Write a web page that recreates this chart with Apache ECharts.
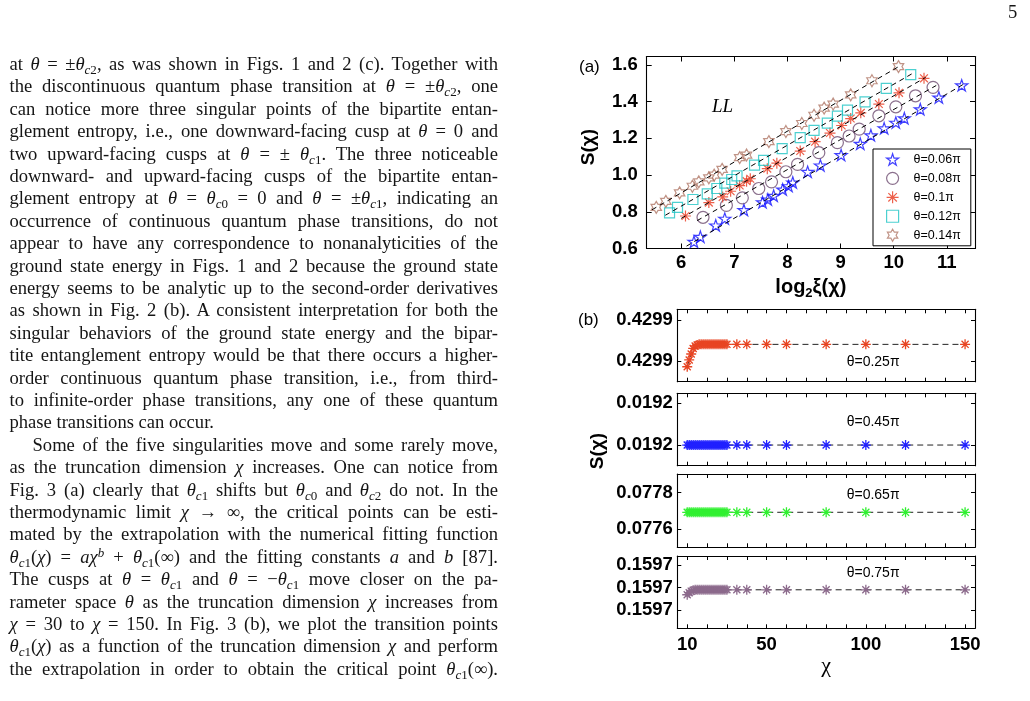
<!DOCTYPE html>
<html>
<head>
<meta charset="utf-8">
<script src="https://cdn.jsdelivr.net/npm/echarts@6/dist/echarts.min.js"></script>
<style>
    body { margin: 0; background: #fff; }
    #page { position: relative; width: 1030px; height: 701px; overflow: hidden; background: #fff; }
    #chart { position: absolute; left: 0; top: 0; width: 1030px; height: 701px; }
    #text { position: absolute; left: 0; top: 0; width: 1030px; height: 701px; pointer-events: none;
        font-family: 'Liberation Serif', 'DejaVu Serif', serif; font-size: 18.6px; color: #151515; }
    #text sub { font-size: 70%; vertical-align: -0.28em; line-height: 0; }
    #text sup { font-size: 70%; vertical-align: 0.5em; line-height: 0; }
    #pageNo { position: absolute; left: 1008px; top: 1px; }
</style>
</head>
<body>
<div id="page">
    <div id="chart"></div>
    <div id="text"><div id="pageNo">5</div></div>
</div>
<script>
// ---- panel (a): S(chi) against log2 xi(chi)
const seriesNamesA = ['θ=0.06π', 'θ=0.08π', 'θ=0.1π', 'θ=0.12π', 'θ=0.14π'];

const xA006 = [6.24, 6.36, 6.65, 6.82, 7.18, 7.53, 7.63, 7.74, 7.91, 8.02, 8.10, 8.38, 8.62, 9.01, 9.37, 9.57, 9.82, 10.04, 10.20, 10.50, 10.85, 11.28];
const yA006 = [0.637, 0.664, 0.726, 0.763, 0.810, 0.852, 0.867, 0.888, 0.922, 0.940, 0.960, 1.018, 1.053, 1.109, 1.171, 1.217, 1.255, 1.286, 1.310, 1.359, 1.423, 1.489];

const xA008 = [6.41, 6.85, 7.15, 7.46, 7.70, 7.97, 8.19, 8.59, 8.94, 9.16, 9.35, 9.72, 10.04, 10.41, 10.74];
const yA008 = [0.770, 0.835, 0.876, 0.927, 0.963, 1.018, 1.058, 1.122, 1.177, 1.213, 1.250, 1.323, 1.372, 1.432, 1.478];

const xA010 = [6.08, 6.52, 6.78, 6.93, 7.10, 7.23, 7.30, 7.62, 7.80, 8.24, 8.52, 8.80, 9.02, 9.19, 9.38, 9.72, 10.10, 10.57];
const yA010 = [0.777, 0.850, 0.881, 0.912, 0.943, 0.967, 0.980, 1.035, 1.065, 1.131, 1.182, 1.229, 1.270, 1.308, 1.339, 1.387, 1.448, 1.527];

const xA012 = [5.78, 5.93, 6.22, 6.49, 6.67, 6.82, 6.95, 7.05, 7.38, 7.55, 7.90, 8.24, 8.50, 8.75, 8.94, 9.13, 9.46, 9.86, 10.32];
const yA012 = [0.794, 0.824, 0.867, 0.898, 0.927, 0.956, 0.976, 0.996, 1.054, 1.080, 1.144, 1.204, 1.244, 1.283, 1.321, 1.354, 1.399, 1.472, 1.547];

const xA014 = [5.53, 5.71, 5.97, 6.21, 6.33, 6.52, 6.62, 6.77, 7.10, 7.23, 7.65, 7.97, 8.27, 8.50, 8.69, 8.86, 9.19, 9.59, 10.09];
const yA014 = [0.824, 0.857, 0.903, 0.939, 0.963, 0.985, 1.000, 1.031, 1.095, 1.109, 1.182, 1.237, 1.281, 1.326, 1.365, 1.387, 1.437, 1.514, 1.591];

// dashed fitting lines, end points
const fitXA = [[6.10, 11.35], [6.30, 10.80], [6.00, 10.60], [5.70, 10.35], [5.45, 10.10]];
const fitYA = [[0.613, 1.501], [0.752, 1.488], [0.764, 1.532], [0.781, 1.553], [0.811, 1.592]];

const xTicksA = [6, 7, 8, 9, 10, 11];
const yTicksA = [0.6, 0.8, 1.0, 1.2, 1.4, 1.6];

// ---- panel (b): S(chi) against chi for four theta
const chiB = [10, 11, 12, 13, 14, 15, 16, 17, 18, 19, 20, 21, 22, 23, 24, 25, 26, 27, 28, 29, 30, 35, 40, 50, 60, 80, 100, 120, 150];
const sB025 = [0.4299072, 0.4299105, 0.4299134, 0.4299161, 0.4299173, 0.4299178, 0.4299181, 0.4299181, 0.4299181, 0.4299181,
    0.4299181, 0.4299181, 0.4299181, 0.4299181, 0.4299181, 0.4299181, 0.4299181, 0.4299181, 0.4299181, 0.4299181,
    0.4299181, 0.4299181, 0.4299181, 0.4299181, 0.4299181, 0.4299181, 0.4299181, 0.4299181, 0.4299181];
const sB045 = [0.01921, 0.01921, 0.01921, 0.01921, 0.01921, 0.01921, 0.01921, 0.01921, 0.01921, 0.01921,
    0.01921, 0.01921, 0.01921, 0.01921, 0.01921, 0.01921, 0.01921, 0.01921, 0.01921, 0.01921,
    0.01921, 0.01921, 0.01921, 0.01921, 0.01921, 0.01921, 0.01921, 0.01921, 0.01921];
const sB065 = [0.0776929, 0.0776929, 0.0776929, 0.0776929, 0.0776929, 0.0776929, 0.0776929, 0.0776929, 0.0776929, 0.0776929,
    0.0776929, 0.0776929, 0.0776929, 0.0776929, 0.0776929, 0.0776929, 0.0776929, 0.0776929, 0.0776929, 0.0776929,
    0.0776929, 0.0776929, 0.0776929, 0.0776929, 0.0776929, 0.0776929, 0.0776929, 0.0776929, 0.0776929];
const sB075 = [0.1597168, 0.1597177, 0.1597184, 0.1597188, 0.1597190, 0.1597190, 0.1597190, 0.1597190, 0.1597190, 0.1597190,
    0.1597190, 0.1597190, 0.1597190, 0.1597190, 0.1597190, 0.1597190, 0.1597190, 0.1597190, 0.1597190, 0.1597190,
    0.1597190, 0.1597190, 0.1597190, 0.1597190, 0.1597190, 0.1597190, 0.1597190, 0.1597190, 0.1597190];
const thetaLabelsB = ['θ=0.25π', 'θ=0.45π', 'θ=0.65π', 'θ=0.75π'];

const xTicksB = [10, 20, 30, 40, 50, 60, 70, 80, 90, 100, 110, 120, 130, 140, 150];
const xLabelsB = [10, 50, 100, 150];
const yTicksB = [[0.42991, 0.42993], [0.01921, 0.01923], [0.0776, 0.0778], [0.15971, 0.15972, 0.15973]];
const yRangeB = [[0.4298999, 0.4299352], [0.0192001, 0.0192348], [0.0775016, 0.0779022], [0.1597019, 0.159734]];

// ---- page text (left column): [html, justified, indented]
const textLines = [
    ['at <i>θ</i> = ±<i>θ</i><sub><i>c</i>2</sub>, as was shown in Figs. 1 and 2 (c). Together with', 1, 0],
    ['the discontinuous quantum phase transition at <i>θ</i> = ±<i>θ</i><sub><i>c</i>2</sub>, one', 1, 0],
    ['can notice more three singular points of the bipartite entan-', 1, 0],
    ['glement entropy, i.e., one downward-facing cusp at <i>θ</i> = 0 and', 1, 0],
    ['two upward-facing cusps at <i>θ</i> = ± <i>θ</i><sub><i>c</i>1</sub>. The three noticeable', 1, 0],
    ['downward- and upward-facing cusps of the bipartite entan-', 1, 0],
    ['glement entropy at <i>θ</i> = <i>θ</i><sub><i>c</i>0</sub> = 0 and <i>θ</i> = ±<i>θ</i><sub><i>c</i>1</sub>, indicating an', 1, 0],
    ['occurrence of continuous quantum phase transitions, do not', 1, 0],
    ['appear to have any correspondence to nonanalyticities of the', 1, 0],
    ['ground state energy in Figs. 1 and 2 because the ground state', 1, 0],
    ['energy seems to be analytic up to the second-order derivatives', 1, 0],
    ['as shown in Fig. 2 (b). A consistent interpretation for both the', 1, 0],
    ['singular behaviors of the ground state energy and the bipar-', 1, 0],
    ['tite entanglement entropy would be that there occurs a higher-', 1, 0],
    ['order continuous quantum phase transition, i.e., from third-', 1, 0],
    ['to infinite-order phase transitions, any one of these quantum', 1, 0],
    ['phase transitions can occur.', 0, 0],
    ['Some of the five singularities move and some rarely move,', 1, 1],
    ['as the truncation dimension <i>χ</i> increases. One can notice from', 1, 0],
    ['Fig. 3 (a) clearly that <i>θ</i><sub><i>c</i>1</sub> shifts but <i>θ</i><sub><i>c</i>0</sub> and <i>θ</i><sub><i>c</i>2</sub> do not. In the', 1, 0],
    ['thermodynamic limit <i>χ</i> → ∞, the critical points can be esti-', 1, 0],
    ['mated by the extrapolation with the numerical fitting function', 1, 0],
    ['<i>θ</i><sub><i>c</i>1</sub>(<i>χ</i>) = <i>aχ</i><sup><i>b</i></sup> + <i>θ</i><sub><i>c</i>1</sub>(∞) and the fitting constants <i>a</i> and <i>b</i> [87].', 1, 0],
    ['The cusps at <i>θ</i> = <i>θ</i><sub><i>c</i>1</sub> and <i>θ</i> = −<i>θ</i><sub><i>c</i>1</sub> move closer on the pa-', 1, 0],
    ['rameter space <i>θ</i> as the truncation dimension <i>χ</i> increases from', 1, 0],
    ['<i>χ</i> = 30 to <i>χ</i> = 150. In Fig. 3 (b), we plot the transition points', 1, 0],
    ['<i>θ</i><sub><i>c</i>1</sub>(<i>χ</i>) as a function of the truncation dimension <i>χ</i> and perform', 1, 0],
    ['the extrapolation in order to obtain the critical point <i>θ</i><sub><i>c</i>1</sub>(∞).', 1, 0]
];

function layoutText() {
    const box = document.getElementById('text');
    box.querySelectorAll('.ln').forEach(function (el) { el.remove(); });
    const textLeft = 9.5, textRight = 498, lineH = 22.4, firstTop = 53;
    textLines.forEach(function ([html, justify, indent], i) {
        const left = textLeft + (indent ? 23 : 0);
        const ln = document.createElement('div');
        ln.className = 'ln';
        ln.style.cssText = `position:absolute;left:${left}px;top:${firstTop + i * lineH}px;white-space:nowrap;line-height:${lineH}px;`;
        ln.innerHTML = html;
        box.appendChild(ln);
        if (justify) {
            const w = ln.getBoundingClientRect().width;
            const spaces = (ln.textContent.match(/ /g) || []).length;
            if (spaces > 0) ln.style.wordSpacing = ((textRight - left - w) / spaces) + 'px';
        }
    });
}
layoutText();
if (document.fonts) document.fonts.ready.then(layoutText);

// ---- chart
const FONT = "'Liberation Sans', Arial, sans-serif";
const pentagram = 'path://M10,0L12.245,6.91L19.51,6.91L13.63,11.18L15.88,18.09L10,13.82L4.12,18.09L6.37,11.18L0.49,6.91L7.755,6.91Z';
const hexagram = 'path://M10,0L12.887,5L18.66,5L15.77,10L18.66,15L12.887,15L10,20L7.113,15L1.34,15L4.23,10L1.34,5L7.113,5Z';
const asterisk = 'path://M0,5L10,5M5,0L5,10M1.46,1.46L8.54,8.54M1.46,8.54L8.54,1.46';

const tickLabel = { color: '#000', fontFamily: FONT, fontWeight: 'bold', fontSize: 18.5 };
const frameLine = { show: true, onZero: false, lineStyle: { color: '#000', width: 1.1 } };

function zip(xs, ys) {
    return xs.map((x, i) => [x, ys[i]]);
}

function xAxisPair(grid, min, max, ticks, labels, tickLen, labelMargin, extra) {
    const bottom = Object.assign({
        type: 'value', gridIndex: grid, position: 'bottom', min: min, max: max,
        axisLine: frameLine, splitLine: { show: false },
        axisTick: { show: true, inside: true, length: tickLen, customValues: ticks, lineStyle: { color: '#000' } },
        axisLabel: labels ? Object.assign({ show: true, customValues: labels, margin: labelMargin }, tickLabel) : { show: false }
    }, extra || {});
    const top = {
        type: 'value', gridIndex: grid, position: 'top', min: min, max: max,
        axisLine: frameLine, splitLine: { show: false },
        axisTick: { show: true, inside: true, length: tickLen, customValues: ticks, lineStyle: { color: '#000' } },
        axisLabel: { show: false }
    };
    return [bottom, top];
}

function yAxisPair(grid, min, max, ticks, digits, tickLen, labelMargin) {
    const left = {
        type: 'value', gridIndex: grid, position: 'left', min: min, max: max,
        axisLine: frameLine, splitLine: { show: false },
        axisTick: { show: true, inside: true, length: tickLen, customValues: ticks, lineStyle: { color: '#000' } },
        axisLabel: Object.assign({ show: true, customValues: ticks, margin: labelMargin, formatter: v => v.toFixed(digits) }, tickLabel)
    };
    const right = {
        type: 'value', gridIndex: grid, position: 'right', min: min, max: max,
        axisLine: frameLine, splitLine: { show: false },
        axisTick: { show: true, inside: true, length: tickLen, customValues: ticks, lineStyle: { color: '#000' } },
        axisLabel: { show: false }
    };
    return [left, right];
}

let grids = [{ left: 646.7, top: 56.5, width: 328.3, height: 192, outerBoundsMode: 'none' }];
let xAxes = xAxisPair(0, 5.35, 11.53, xTicksA, xTicksA, 5, 5, {
    name: '{m|log}{s|2}{m|ξ(χ)}', nameLocation: 'middle', nameGap: 27,
    nameTextStyle: {
        rich: {
            m: { fontFamily: FONT, fontWeight: 'bold', fontSize: 20, color: '#000', lineHeight: 24 },
            s: { fontFamily: FONT, fontWeight: 'bold', fontSize: 13, color: '#000', lineHeight: 24, verticalAlign: 'bottom' }
        }
    }
});
let yAxes = yAxisPair(0, 0.6, 1.646, yTicksA, 1, 5, 9);

const topsB = [309.3, 393.3, 474, 556];
const heightsB = [72.4, 72.4, 73.3, 72.3];
topsB.forEach(function (t, i) {
    grids.push({ left: 677.3, top: t, width: 297.7, height: heightsB[i], outerBoundsMode: 'none' });
    const last = i === topsB.length - 1;
    xAxes = xAxes.concat(xAxisPair(i + 1, 5, 155, xTicksB, last ? xLabelsB : null, 4, 7, last ? {
        name: 'χ', nameLocation: 'middle', nameGap: 26,
        nameTextStyle: { fontFamily: "'Liberation Serif', serif", fontSize: 22, color: '#000' }
    } : null));
    yAxes = yAxes.concat(yAxisPair(i + 1, yRangeB[i][0], yRangeB[i][1], yTicksB[i], 4, 4, 4.5));
});

const pointsA = [[xA006, yA006], [xA008, yA008], [xA010, yA010], [xA012, yA012], [xA014, yA014]];
const symbolsA = [pentagram, 'circle', asterisk, 'rect', hexagram];
const sizesA = [12, 12, 11, 10, 12];
const colorsA = ['#1010ff', '#6e4c70', '#e8381e', '#1fc4c4', '#b07868'];

let series = [];
pointsA.forEach(function ([xs, ys], i) {
    series.push({
        name: seriesNamesA[i], type: 'scatter', xAxisIndex: 0, yAxisIndex: 0,
        data: zip(xs, ys), symbol: symbolsA[i], symbolSize: sizesA[i], symbolKeepAspect: true,
        itemStyle: { color: 'rgba(0,0,0,0)', borderColor: colorsA[i], borderWidth: 1.2 },
        z: 2
    });
    series.push({
        name: 'fit' + i, type: 'line', xAxisIndex: 0, yAxisIndex: 0,
        data: zip(fitXA[i], fitYA[i]), symbol: 'none', silent: true,
        lineStyle: { color: '#000', width: 1, type: [5, 4] },
        z: 3
    });
});

const valuesB = [sB025, sB045, sB065, sB075];
const colorsB = ['#e84422', '#2020ff', '#30f030', '#8c6a8c'];
valuesB.forEach(function (vals, i) {
    series.push({
        name: thetaLabelsB[i], type: 'line', xAxisIndex: 2 + 2 * i, yAxisIndex: 2 + 2 * i,
        data: zip(chiB, vals), symbol: asterisk, symbolSize: 10, showSymbol: true, showAllSymbol: true,
        itemStyle: { color: 'rgba(0,0,0,0)', borderColor: colorsB[i], borderWidth: 1.3 },
        lineStyle: { color: '#222', width: 1, type: [6, 4] },
        z: 2
    });
});

const thetaTextY = [361.7, 421.7, 495, 573.3];
let graphics = [
    { type: 'text', x: 579, y: 67, style: { text: '(a)', font: `17px ${FONT}`, fill: '#000', verticalAlign: 'middle' } },
    { type: 'text', x: 578, y: 320, style: { text: '(b)', font: `17px ${FONT}`, fill: '#000', verticalAlign: 'middle' } },
    { type: 'text', x: 712, y: 107, style: { text: 'LL', font: "italic 19px 'Liberation Serif', serif", fill: '#000', verticalAlign: 'middle' } },
    { type: 'text', x: 589, y: 147, rotation: Math.PI / 2, style: { text: 'S(χ)', font: `bold 19px ${FONT}`, fill: '#000', align: 'center', verticalAlign: 'middle' } },
    { type: 'text', x: 598, y: 451, rotation: Math.PI / 2, style: { text: 'S(χ)', font: `bold 19px ${FONT}`, fill: '#000', align: 'center', verticalAlign: 'middle' } }
];
thetaLabelsB.forEach(function (t, i) {
    graphics.push({ type: 'text', x: 846.7, y: thetaTextY[i], style: { text: t, font: `14px ${FONT}`, fill: '#000', verticalAlign: 'middle' } });
});

let myChart = echarts.init(document.getElementById('chart'), null, { renderer: 'canvas' });
let option = {
    animation: false,
    backgroundColor: 'rgba(0,0,0,0)',
    grid: grids,
    xAxis: xAxes,
    yAxis: yAxes,
    legend: {
        data: seriesNamesA, orient: 'vertical', left: 873, top: 149,
        padding: [4, 10, 4, 13], itemGap: 5.75, itemWidth: 12, itemHeight: 12,
        borderColor: '#000', borderWidth: 1, backgroundColor: '#fff', borderRadius: 0,
        selectedMode: false,
        itemStyle: { borderWidth: 1.2 },
        textStyle: { fontFamily: FONT, fontSize: 12.5, color: '#000', padding: [0, 0, 0, 10] }
    },
    graphic: graphics,
    series: series
};
myChart.setOption(option);
</script>
</body>
</html>
